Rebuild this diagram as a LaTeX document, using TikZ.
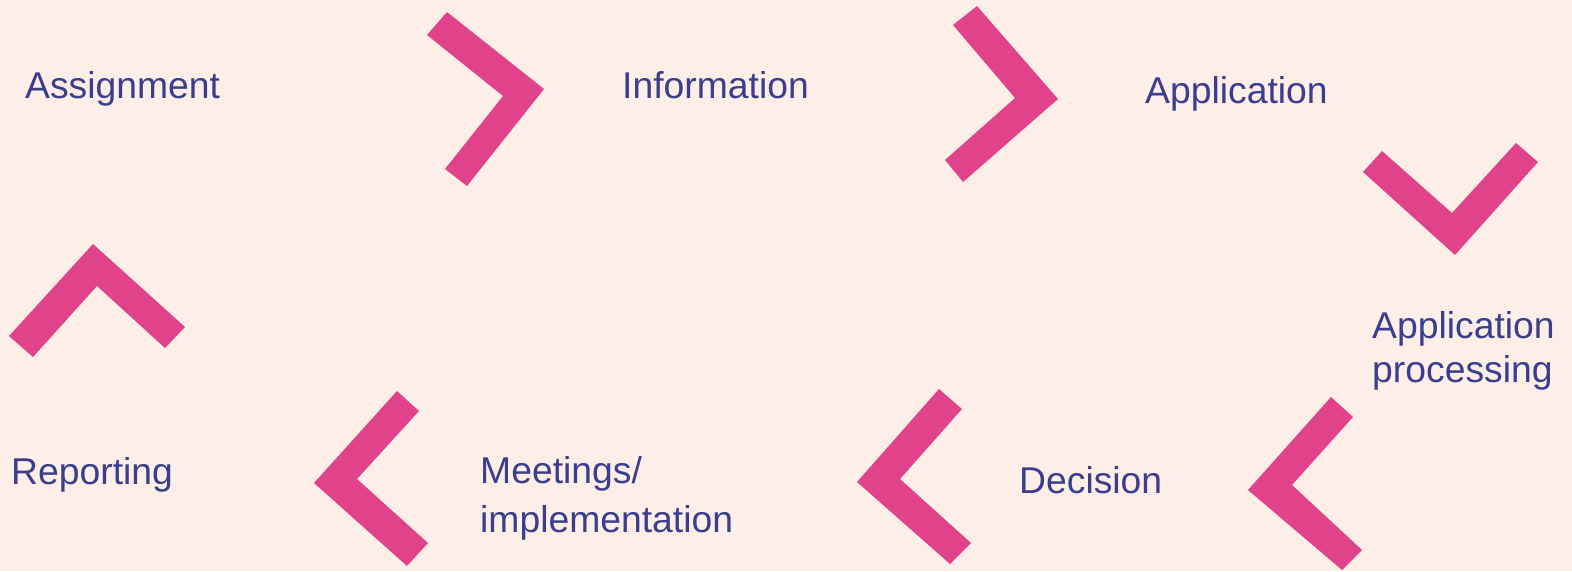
\documentclass[tikz,border=0pt]{standalone}
\usepackage{fontspec}
\setmainfont{Liberation Sans}
\definecolor{bgpeach}{HTML}{FEEEE8}
\definecolor{chevpink}{HTML}{E0438A}
\definecolor{labelblue}{HTML}{3A3E8C}
\tikzset{
  chev/.style={fill=chevpink, draw=none},
  lbl/.style={anchor=base west, inner sep=0pt, text=labelblue, align=left,
    font=\fontsize{37.3}{44}\selectfont},
}
\begin{document}
\begin{tikzpicture}[x=1pt, y=-1pt]
\fill [bgpeach] (0,0) rectangle (1572,571);
\useasboundingbox (0,0) rectangle (1572,571);
% chevrons
\fill [chev] (447,12) -- (544,89) -- (467,186) -- (445,169) -- (503,96) -- (427,35) -- cycle;
\fill [chev] (977,6) -- (1058,99) -- (963,182) -- (945,160) -- (1015,98) -- (953,25) -- cycle;
\fill [chev] (1382,151) -- (1452,213) -- (1516,143) -- (1538,162) -- (1455,255) -- (1363,172) -- cycle;
\fill [chev] (1331,397) -- (1353,417) -- (1292,485) -- (1362,550) -- (1342,570) -- (1248,490) -- cycle;
\fill [chev] (939,389) -- (962,409) -- (900,479) -- (971,543) -- (950,564) -- (857,482) -- cycle;
\fill [chev] (397,391) -- (419,411) -- (357,479) -- (428,543) -- (407,566) -- (314,483) -- cycle;
\fill [chev] (93,244) -- (185,327) -- (165,348) -- (97,286) -- (33,357) -- (9,336) -- cycle;
% labels (multi-line ones sit on their last baseline)
\node [lbl] (assignment) at (25,98) {Assignment};
\node [lbl] (information) at (622,98) {Information};
\node [lbl] (application) at (1145,103) {Application};
\node [lbl] (processing) at (1372,382) {Application\\processing};
\node [lbl] (decision) at (1019,493) {Decision};
\node [lbl, font=\fontsize{37.3}{49}\selectfont] (meetings) at (480,532) {Meetings/\\implementation};
\node [lbl] (reporting) at (11,484) {Reporting};
\end{tikzpicture}
\end{document}
